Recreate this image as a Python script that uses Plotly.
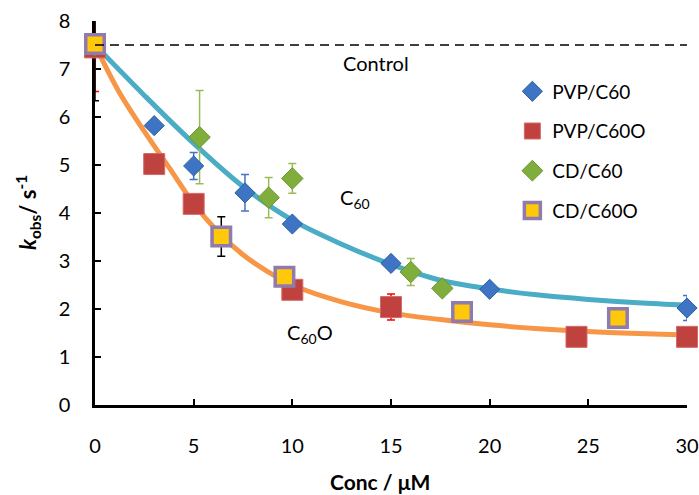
import plotly.graph_objects as go

# ---- measured rate constants (k_obs, s^-1) vs concentration (uM) ----
pvp_c60_x = [0, 3, 5, 7.6, 10, 15, 20, 30]
pvp_c60_y = [7.5, 5.82, 4.98, 4.42, 3.77, 2.95, 2.41, 2.02]
pvp_c60_err = [0, 0, 0.28, 0.38, 0, 0, 0, 0.26]

pvp_c60o_x = [0, 3, 5, 10, 15, 24.4, 30]
pvp_c60o_y = [7.45, 5.02, 4.19, 2.40, 2.04, 1.42, 1.42]
pvp_c60o_err = [0.92, 0, 0, 0, 0.27, 0, 0]

cd_c60_x = [0, 5.3, 8.8, 10, 16, 17.6]
cd_c60_y = [7.5, 5.58, 4.32, 4.72, 2.77, 2.43]
cd_c60_err = [0, 0.97, 0.42, 0.31, 0.28, 0]

cd_c60o_x = [0, 6.4, 9.6, 18.6, 26.5]
cd_c60o_y = [7.52, 3.51, 2.67, 1.94, 1.81]
cd_c60o_err = [1.18, 0.41, 0, 0, 0]

# ---- trend curves for the two fullerene types ----
fit_c60_x = [0, 2.5, 5, 7.5, 10, 12.5, 15, 17.5, 20, 22.5, 25, 27.5, 30]
fit_c60_y = [7.5, 6.45, 5.45, 4.55, 3.85, 3.35, 2.93, 2.6, 2.42, 2.29, 2.2, 2.13, 2.08]

fit_c60o_x = [0, 1.25, 2.5, 3.75, 5, 6.25, 7.5, 8.75, 10, 12.5, 15, 17.5, 20, 22.5, 25, 27.5, 30]
fit_c60o_y = [7.5, 6.5, 5.7, 4.95, 4.2, 3.6, 3.13, 2.78, 2.5, 2.15, 1.92, 1.78, 1.67, 1.59, 1.53, 1.49, 1.46]

control_level = 7.5
x_ticks = [0, 5, 10, 15, 20, 25, 30]
y_ticks = [0, 1, 2, 3, 4, 5, 6, 7, 8]

FONT = "Lato"

fig = go.Figure()

# fitted curves
fig.add_trace(go.Scatter(x=fit_c60_x, y=fit_c60_y, mode="lines",
                         line=dict(color="#4BACC6", width=5, shape="spline"),
                         showlegend=False, hoverinfo="skip"))
fig.add_trace(go.Scatter(x=fit_c60o_x, y=fit_c60o_y, mode="lines",
                         line=dict(color="#F79646", width=5, shape="spline"),
                         showlegend=False, hoverinfo="skip"))

# error bars (clipped to the plotting area)
for xs, ys, errs, col in [
    (pvp_c60_x, pvp_c60_y, pvp_c60_err, "#4472C4"),
    (pvp_c60o_x, pvp_c60o_y, pvp_c60o_err, "#FF0000"),
    (cd_c60_x, cd_c60_y, cd_c60_err, "#9BBB59"),
    (cd_c60o_x, cd_c60o_y, cd_c60o_err, "#000000"),
]:
    fig.add_trace(go.Scatter(
        x=xs, y=ys, mode="markers",
        marker=dict(size=1, opacity=0),
        error_y=dict(type="data", array=errs, visible=True,
                     color=col, thickness=1.5, width=4),
        showlegend=False, hoverinfo="skip", cliponaxis=True))

# data markers
series = [
    ("PVP/C60", pvp_c60_x, pvp_c60_y,
     dict(symbol="diamond", size=15.5, color="#3E74C4", line=dict(color="#2F5E9E", width=1))),
    ("PVP/C60O", pvp_c60o_x, pvp_c60o_y,
     dict(symbol="square", size=21, color="#C0423E", line=dict(color="#D46A68", width=1))),
    ("CD/C60", cd_c60_x, cd_c60_y,
     dict(symbol="diamond", size=16.5, color="#80AE3C", line=dict(color="#6A9530", width=1))),
    ("CD/C60O", cd_c60o_x, cd_c60o_y,
     dict(symbol="square", size=18.5, color="#FFC80A", line=dict(color="#8F7BAE", width=3.5))),
]
for i, (name, xs, ys, mk) in enumerate(series):
    fig.add_trace(go.Scatter(x=xs, y=ys, mode="markers", name=name, marker=mk,
                             legendgroup=f"g{i}", cliponaxis=False))

# control level
fig.add_trace(go.Scatter(x=[0, 30], y=[control_level, control_level], mode="lines",
                         line=dict(color="black", width=1.5, dash="9px,6px"),
                         showlegend=False, hoverinfo="skip"))

axis_common = dict(
    showgrid=False, zeroline=False, showline=True, linecolor="black", linewidth=2.5,
    ticks="inside", ticklen=6, tickwidth=1.5, tickcolor="black", automargin=False,
    tickfont=dict(family=FONT, size=20, color="black"), layer="below traces",
)
fig.update_xaxes(range=[0, 30], tickvals=x_ticks, ticklabelstandoff=21, **axis_common)
fig.update_yaxes(range=[0, 8], tickvals=y_ticks, ticklabelstandoff=18, **axis_common)

fig.add_annotation(text="Control", x=14.24, y=7.12, xref="x", yref="y", showarrow=False,
                   font=dict(family=FONT, size=20, color="black"))
fig.add_annotation(text="C<sub>60</sub>", x=13.2, y=4.3, xref="x", yref="y", showarrow=False,
                   font=dict(family=FONT, size=20, color="black"))
fig.add_annotation(text="C<sub>60</sub>O", x=10.9, y=1.5, xref="x", yref="y", showarrow=False,
                   font=dict(family=FONT, size=20, color="black"))

fig.add_annotation(text="<b>Conc / μM</b>", x=0.481, y=-0.198, xref="paper", yref="paper",
                   showarrow=False, xanchor="center", yanchor="middle",
                   font=dict(family=FONT, size=21, color="black"))
fig.add_annotation(text="<b><i>k</i><sub>obs</sub>/ s<sup>-1</sup></b>", x=-0.113, y=0.5,
                   xref="paper", yref="paper", showarrow=False, textangle=-90,
                   xanchor="center", yanchor="middle",
                   font=dict(family=FONT, size=22, color="black"))

fig.update_layout(
    width=699, height=495,
    margin=dict(l=95, r=12, t=21, b=90, autoexpand=False),
    paper_bgcolor="white", plot_bgcolor="white",
    legend=dict(x=0.705, y=0.866, xanchor="left", yanchor="top",
                font=dict(family=FONT, size=19, color="black"),
                tracegroupgap=12, bgcolor="rgba(0,0,0,0)"),
)

fig.write_html("out.html")
